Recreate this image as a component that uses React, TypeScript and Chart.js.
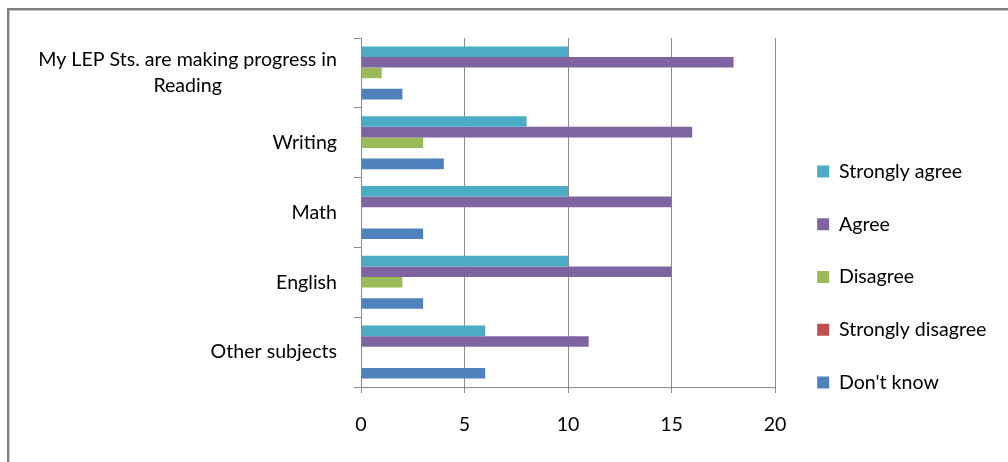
import React, { useEffect, useRef } from 'react';
import { Chart, registerables } from 'chart.js';

Chart.register(...registerables);

// ---- data ----
const categories: (string | string[])[] = [
  ['My LEP Sts. are making progress in', 'Reading'],
  'Writing',
  'Math',
  'English',
  'Other subjects',
];
const seriesNames = ['Strongly agree', 'Agree', 'Disagree', 'Strongly disagree', "Don't know"];
const stronglyAgree = [10, 8, 10, 10, 6];
const agree = [18, 16, 15, 15, 11];
const disagree = [1, 3, 0, 2, 0];
const stronglyDisagree = [0, 0, 0, 0, 0];
const dontKnow = [2, 4, 3, 3, 6];
const seriesColors = ['#4BACC6', '#8064A2', '#9BBB59', '#C0504D', '#4F81BD'];
const xMin = 0;
const xMax = 20;
const xStep = 5;

// ---- styling constants ----
const W = 1008;
const H = 462;
const FONT = 'Lato';
const FONT_SIZE = 19.6;
const LINE_H = 26;
const GRID = '#8c8c8c';
const PLOT_LEFT = 361;
const PLOT_RIGHT = 775;
const PLOT_TOP = 38;
const PLOT_BOTTOM = 387;
const Y_LABEL_GAP = 24;
const LEGEND_PAD = 52.75 - FONT_SIZE;
const LEGEND_DX = 9;
const LEGEND_DY = 27;

const framePlugin = {
  id: 'frame',
  beforeDraw(chart: any) {
    const ctx = chart.ctx;
    ctx.save();
    ctx.fillStyle = '#ffffff';
    ctx.fillRect(0, 0, W, H);
    ctx.fillStyle = '#7f7f7f';
    ctx.fillRect(7, 8, 2, H - 8);
    ctx.fillRect(7, 8, W - 7, 2);
    ctx.fillStyle = '#c8c8c8';
    ctx.fillRect(9, 10, 1, H - 10);
    ctx.fillRect(9, 10, W - 9, 1);
    ctx.restore();
  },
};

const yLabelPlugin = {
  id: 'yLabels',
  afterDraw(chart: any) {
    const ctx = chart.ctx;
    const ys = chart.scales.y;
    ctx.save();
    ctx.font = `${FONT_SIZE}px ${FONT}`;
    ctx.fillStyle = '#000000';
    ctx.textBaseline = 'middle';
    ctx.textAlign = 'center';
    (chart.data.labels as (string | string[])[]).forEach((lab, i) => {
      const lines = Array.isArray(lab) ? lab : [lab];
      const w = Math.max(...lines.map((l) => ctx.measureText(l).width));
      const cx = ys.right - Y_LABEL_GAP - w / 2;
      const cy = ys.getPixelForTick(i);
      lines.forEach((l, j) => {
        ctx.fillText(l, cx, cy + (j - (lines.length - 1) / 2) * LINE_H);
      });
    });
    ctx.restore();
  },
};

const legendFixPlugin = {
  id: 'legendFix',
  beforeInit(chart: any) {
    const lg = chart.legend;
    if (lg && !lg.__patched) {
      const orig = lg.fit.bind(lg);
      lg.fit = function () {
        orig();
        this.width = W - PLOT_RIGHT;
      };
      lg.__patched = true;
    }
  },
  afterLayout(chart: any) {
    const lg = chart.legend;
    if (lg) {
      lg.left += LEGEND_DX;
      lg.right += LEGEND_DX;
      lg.top += LEGEND_DY;
      lg.bottom += LEGEND_DY;
    }
  },
};

export default function App() {
  const ref = useRef<HTMLCanvasElement | null>(null);

  useEffect(() => {
    if (!ref.current) return;
    const seriesValues = [stronglyAgree, agree, disagree, stronglyDisagree, dontKnow];
    const chart = new Chart(ref.current, {
      type: 'bar',
      data: {
        labels: categories,
        datasets: seriesNames.map((name, i) => ({
          label: name,
          data: seriesValues[i],
          backgroundColor: seriesColors[i],
          borderWidth: 0,
          categoryPercentage: 0.76,
          barPercentage: 1.0,
        })),
      },
      options: {
        indexAxis: 'y',
        responsive: false,
        animation: false,
        layout: { padding: { top: PLOT_TOP, left: 0, right: 0, bottom: 0 } },
        plugins: {
          tooltip: { enabled: false },
          title: { display: false },
          legend: {
            display: true,
            position: 'right',
            align: 'center',
            labels: {
              color: '#000000',
              font: { family: FONT, size: FONT_SIZE },
              boxWidth: 12,
              boxHeight: 12,
              padding: LEGEND_PAD,
            },
          },
        },
        scales: {
          x: {
            type: 'linear',
            min: xMin,
            max: xMax,
            afterFit: (s: any) => {
              s.height = H - PLOT_BOTTOM;
            },
            ticks: {
              stepSize: xStep,
              color: '#000000',
              font: { family: FONT, size: FONT_SIZE },
              padding: 20,
            },
            grid: {
              color: GRID,
              lineWidth: 1,
              drawOnChartArea: true,
              drawTicks: true,
              tickLength: 6,
            },
            border: { display: true, color: GRID, width: 1 },
          },
          y: {
            type: 'category',
            offset: true,
            afterFit: (s: any) => {
              s.width = PLOT_LEFT;
            },
            ticks: { display: false },
            grid: {
              offset: true,
              color: GRID,
              lineWidth: 1,
              drawOnChartArea: false,
              drawTicks: true,
              tickLength: 7,
            },
            border: { display: true, color: GRID, width: 1 },
          },
        },
      },
      plugins: [framePlugin, yLabelPlugin, legendFixPlugin],
    });
    return () => chart.destroy();
  }, []);

  return (
    <div style={{ position: 'fixed', left: 0, top: 0, width: W, height: H, background: '#fff' }}>
      <canvas ref={ref} width={W} height={H} style={{ display: 'block', width: W, height: H }} />
    </div>
  );
}
